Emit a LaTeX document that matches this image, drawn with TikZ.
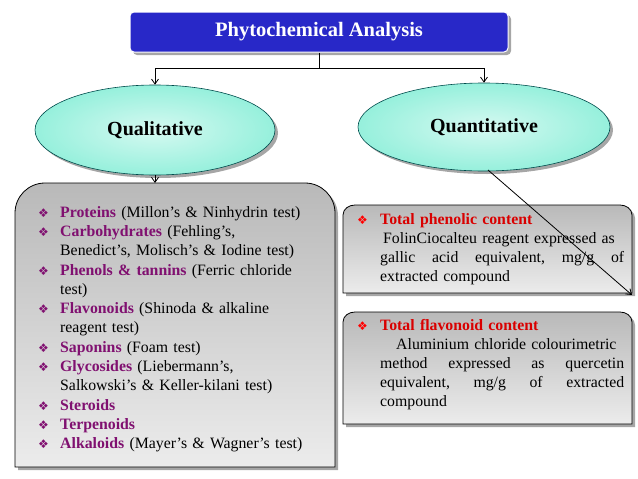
\documentclass[tikz,border=0pt]{standalone}
\usepackage{fontspec}
\setmainfont{Liberation Serif}
\newfontfamily\dv{DejaVu Sans}
\usetikzlibrary{shapes.geometric,arrows.meta}
\definecolor{tblue}{RGB}{40,40,200}
\definecolor{pur}{RGB}{128,16,112}
\definecolor{cy}{RGB}{150,240,220}
\newcommand{\bul}[1]{{\dv\color{#1}\fontsize{12}{12}\selectfont ❖}}
\newcommand{\itm}[2]{\noindent\hangindent=22pt\hangafter=1\makebox[22pt][l]{\bul{pur}}\textbf{\color{pur}#1}#2\par}
\newcommand{\brk}{\hfil\break}
\begin{document}
\begin{tikzpicture}[x=1pt,y=-1pt,
 shadowed/.style={preaction={fill=gray!70,transform canvas={xshift=3pt,yshift=-3pt}}},
 conn/.style={draw,line width=0.8pt,-{Straight Barb[length=5pt,width=7pt]}},
 ell/.style={ellipse,draw=teal!60!black,line width=0.6pt,inner color=cy!40,outer color=cy,shadowed,font=\fontsize{20}{20}\bfseries\selectfont},
 gbox/.style={draw=black,line width=0.8pt,top color=gray!55,bottom color=gray!15,shadowed}]
\useasboundingbox (0,0) rectangle (638,479);
\node[fill=tblue,draw=white,line width=1pt,rounded corners=4pt,minimum width=378pt,minimum height=40pt,text=white,font=\fontsize{20.5}{20}\bfseries\selectfont,shadowed] (t) at (319,32) {Phytochemical Analysis};
\node[ell,minimum width=240pt,minimum height=90pt] (ql) at (155,130) {Qualitative};
\node[ell,minimum width=252pt,minimum height=88pt] (qn) at (484,127) {Quantitative};
\coordinate (j) at (319,68);
\draw[line width=0.8pt] (t.south) -- (j);
\draw[conn] (j) -| (ql.north);
\draw[conn] (j) -| (qn.north);
% left box
\draw[gbox] (15,467) -- (15,213) to[out=90,in=180] (45,183) -- (305,183) to[out=0,in=90] (335,213) -- (335,467) -- cycle;
\coordinate (lb) at (155,183);
\draw[conn] (ql.south) -- (lb);
\node[anchor=north west,text width=285pt,align=left,inner sep=0pt,font=\fontsize{15.8}{19.3}\selectfont] (lt) at (38,206) {%
\itm{Proteins}{ (Millon’s \& Ninhydrin test)}
\itm{Carbohydrates}{ (Fehling’s,\brk Benedict’s, Molisch’s \& Iodine test)}
\itm{Phenols \& tannins}{ (Ferric chloride\brk test)}
\itm{Flavonoids}{ (Shinoda \& alkaline\brk reagent test)}
\itm{Saponins}{ (Foam test)}
\itm{Glycosides}{ (Liebermann’s,\brk Salkowski’s \& Keller-kilani test)}
\itm{Steroids}{}
\itm{Terpenoids}{}
\itm{Alkaloids}{ (Mayer’s \& Wagner’s test)}};
% right boxes
\draw[gbox] (343,293) -- (343,215) to[out=90,in=180] (355,205) -- (620,205) to[out=0,in=90] (632,215) -- (632,293) -- cycle;
\draw[gbox] (343,424) -- (343,322) to[out=90,in=180] (355,312) -- (620,312) to[out=0,in=90] (632,322) -- (632,424) -- cycle;
\node[anchor=north west,text width=266pt,align=left,inner sep=0pt,font=\fontsize{15.8}{19}\selectfont] (r1) at (357,213) {%
\noindent\makebox[23pt][l]{\bul{red}}\textbf{\color{red!85!black}Total phenolic content}\par
\noindent\hspace*{23pt}\parbox[t]{244pt}{\hspace*{3pt}FolinCiocalteu reagent expressed as\brk gallic\hfill acid\hfill equivalent,\hfill mg/g\hfill of\brk extracted compound}};
\node[anchor=north west,text width=266pt,align=left,inner sep=0pt,font=\fontsize{15.8}{19}\selectfont] (r2) at (357,319) {%
\noindent\makebox[23pt][l]{\bul{red}}\textbf{\color{red!85!black}Total flavonoid content}\par
\noindent\hspace*{23pt}\parbox[t]{244pt}{\hspace*{16pt}Aluminium chloride colourimetric\brk method\hfill expressed\hfill as\hfill quercetin\brk equivalent,\hfill mg/g\hfill of\hfill extracted\brk compound}};
\coordinate (de) at (632,295);
\draw[line width=0.8pt,-{Straight Barb[length=5pt,width=7pt]}] (488,170) -- (de);
\end{tikzpicture}
\end{document}
